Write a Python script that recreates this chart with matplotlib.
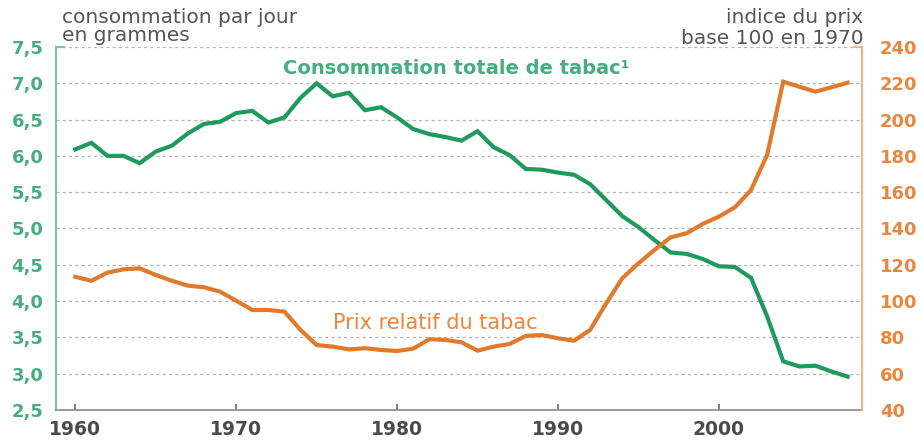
import matplotlib
matplotlib.use("Agg")
import matplotlib.pyplot as plt

GREEN, ORANGE = "#1f9a5e", "#e07a2c"
GREEN_LT, ORANGE_LT, INK, GRID = "#45ad7e", "#e8873d", "#4a4a4a", "#b5b5b5"

years = list(range(1960, 2009))
# consommation par jour (grammes)
conso = [6.09, 6.18, 6.00, 6.00, 5.90, 6.06, 6.14, 6.31, 6.44, 6.47,
         6.59, 6.62, 6.46, 6.53, 6.80, 7.00, 6.82, 6.87, 6.63, 6.67,
         6.53, 6.37, 6.30, 6.26, 6.21, 6.34, 6.12, 6.01, 5.82, 5.81,
         5.77, 5.74, 5.61, 5.39, 5.17, 5.02, 4.84, 4.67, 4.65, 4.58,
         4.48, 4.47, 4.32, 3.79, 3.17, 3.10, 3.11, 3.03, 2.96]
# prix relatif, base 100 en 1970
prix = [113.4, 111.2, 115.7, 117.5, 118.0, 114.4, 111.2, 108.5, 107.6, 105.2,
        100.2, 95.1, 95.1, 94.2, 84.1, 75.8, 74.9, 73.4, 74.0, 73.1,
        72.5, 73.8, 79.0, 78.6, 77.3, 72.7, 74.9, 76.4, 80.8, 81.3,
        79.5, 78.2, 84.1, 98.8, 112.6, 120.8, 128.2, 135.1, 137.4, 142.5,
        146.5, 151.7, 161.2, 180.5, 220.9, 218.1, 215.4, 217.8, 220.3]
left_ticks = [2.5, 3.0, 3.5, 4.0, 4.5, 5.0, 5.5, 6.0, 6.5, 7.0, 7.5]
right_ticks = [40, 60, 80, 100, 120, 140, 160, 180, 200, 220, 240]
x_ticks = [1960, 1970, 1980, 1990, 2000]

fig = plt.figure(figsize=(9.21, 4.42), dpi=100)
ax = fig.add_axes([0.0608, 0.0724, 0.8752, 0.8213])
ax2 = ax.twinx()

ax.set_xlim(1958.8, 2008.9)
ax.set_ylim(2.5, 7.5)
ax2.set_ylim(40, 240)

for y in left_ticks[1:]:
    ax.axhline(y, color=GRID, lw=0.9, ls=(0, (2.5, 2.5)), zorder=0)

ax.plot(years, conso, color=GREEN, lw=3, solid_joinstyle="miter", zorder=3)
ax2.plot(years, prix, color=ORANGE, lw=3, solid_joinstyle="miter", zorder=3)

for a in (ax, ax2):
    a.spines["top"].set_visible(False)
    a.set_facecolor("none")
ax.spines["right"].set_visible(False)
ax.spines["left"].set_color("#7cc4a0")
ax.spines["left"].set_linewidth(1.5)
ax.spines["bottom"].set_color("#8a8a8a")
ax.spines["bottom"].set_linewidth(1.2)
ax2.spines["left"].set_visible(False)
ax2.spines["bottom"].set_visible(False)
ax2.spines["right"].set_color("#f0b383")
ax2.spines["right"].set_linewidth(1.5)
# small stubs at the top of both vertical axes
ax.plot([1958.8, 1959.3], [7.5, 7.5], color="#7cc4a0", lw=1.5, clip_on=False)
ax.plot([2008.4, 2008.9], [7.5, 7.5], color="#f0b383", lw=1.5, clip_on=False)

ax.set_yticks(left_ticks)
ax.set_yticklabels([f"{v:.1f}".replace(".", ",") for v in left_ticks],
                   color=GREEN_LT, fontsize=13, fontweight="bold")
ax.tick_params(axis="y", length=0, pad=9)
ax2.set_yticks(right_ticks)
ax2.set_yticklabels([str(v) for v in right_ticks], color=ORANGE_LT,
                    fontsize=13, fontweight="bold")
ax2.tick_params(axis="y", length=0, pad=13)
ax.set_xticks(x_ticks)
ax.set_xticklabels([str(v) for v in x_ticks], color=INK, fontsize=13.5, fontweight="bold")
ax.tick_params(axis="x", direction="in", length=4, width=1.2, color="#6a6a6a", pad=7)

head = dict(color="#555555", fontsize=14.5, va="baseline")
fig.text(0.0673, 0.948, "consommation par jour", ha="left", **head)
fig.text(0.0673, 0.908, "en grammes", ha="left", **head)
fig.text(0.9375, 0.948, "indice du prix", ha="right", **head)
fig.text(0.9375, 0.900, "base 100 en 1970", ha="right", **head)

ax.text(1983.7, 7.21, "Consommation totale de tabac\u00b9", color=GREEN_LT,
        fontsize=14, fontweight="bold", ha="center", va="center")
ax.text(1982.4, 3.70, "Prix relatif du tabac", color=ORANGE_LT,
        fontsize=15, ha="center", va="center")

fig.savefig("out.png", dpi=100, facecolor="white")
